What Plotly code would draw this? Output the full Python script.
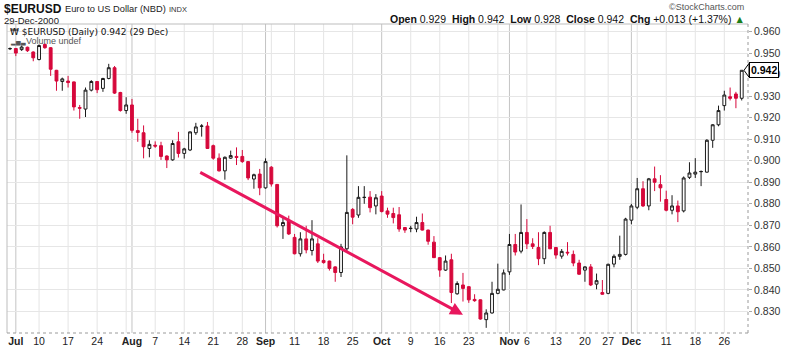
import pandas as pd
import plotly.graph_objects as go

# ---------------- data ----------------
HOLIDAYS = ["2000-07-04", "2000-09-04", "2000-11-23", "2000-12-25"]
dates = [d.strftime("%Y-%m-%d") for d in pd.bdate_range("2000-06-30", "2000-12-29")
         if d.strftime("%Y-%m-%d") not in HOLIDAYS]

opens = [0.9520, 0.9521, 0.9516, 0.9527, 0.9505, 0.9470, 0.9540, 0.9525, 0.9420, 0.9368,
         0.9370, 0.9366, 0.9247, 0.9240, 0.9328, 0.9368, 0.9336, 0.9382, 0.9432, 0.9317,
         0.9233, 0.9259, 0.9140, 0.9130, 0.9057, 0.9072, 0.9070, 0.9022, 0.9004, 0.9088,
         0.9034, 0.9050, 0.9130, 0.9160, 0.9161, 0.9070, 0.9012, 0.8953, 0.9012, 0.9020,
         0.9020, 0.8996, 0.8915, 0.8938, 0.8874, 0.8970, 0.8890, 0.8698, 0.8720, 0.8644,
         0.8568, 0.8637, 0.8583, 0.8614, 0.8537, 0.8534, 0.8507, 0.8481, 0.8591, 0.8774,
         0.8748, 0.8829, 0.8831, 0.8790, 0.8836, 0.8767, 0.8755, 0.8749, 0.8690, 0.8685,
         0.8683, 0.8713, 0.8678, 0.8622, 0.8550, 0.8492, 0.8540, 0.8382, 0.8423, 0.8415,
         0.8356, 0.8354, 0.8262, 0.8293, 0.8384, 0.8400, 0.8484, 0.8611, 0.8580, 0.8667,
         0.8614, 0.8597, 0.8545, 0.8667, 0.8597, 0.8557, 0.8575, 0.8565, 0.8525, 0.8492,
         0.8507, 0.8427, 0.8388, 0.8384, 0.8520, 0.8556, 0.8565, 0.8724, 0.8784, 0.8870,
         0.8790, 0.8916, 0.8889, 0.8820, 0.8770, 0.8790, 0.8767, 0.8923, 0.8938, 0.8949,
         0.8947, 0.9095, 0.9167, 0.9256, 0.9297, 0.9310, 0.9290]
highs = [0.9526, 0.9523, 0.9535, 0.9530, 0.9508, 0.9540, 0.9545, 0.9528, 0.9422, 0.9386,
         0.9394, 0.9368, 0.9259, 0.9340, 0.9374, 0.9370, 0.9385, 0.9450, 0.9440, 0.9320,
         0.9295, 0.9287, 0.9195, 0.9164, 0.9095, 0.9090, 0.9088, 0.9025, 0.9095, 0.9134,
         0.9060, 0.9136, 0.9176, 0.9170, 0.9180, 0.9075, 0.9034, 0.9020, 0.9047, 0.9062,
         0.9050, 0.8998, 0.8940, 0.8962, 0.9011, 0.8975, 0.8892, 0.8744, 0.8745, 0.8660,
         0.8668, 0.8698, 0.8724, 0.8640, 0.8568, 0.8536, 0.8510, 0.8614, 0.9025, 0.8780,
         0.8882, 0.8882, 0.8859, 0.8845, 0.8859, 0.8782, 0.8782, 0.8785, 0.8692, 0.8698,
         0.8740, 0.8755, 0.8680, 0.8650, 0.8553, 0.8560, 0.8568, 0.8440, 0.8479, 0.8418,
         0.8380, 0.8356, 0.8310, 0.8438, 0.8522, 0.8495, 0.8660, 0.8660, 0.8797, 0.8729,
         0.8640, 0.8668, 0.8672, 0.8698, 0.8600, 0.8590, 0.8622, 0.8583, 0.8540, 0.8510,
         0.8520, 0.8476, 0.8446, 0.8522, 0.8565, 0.8652, 0.8735, 0.8800, 0.8920, 0.8905,
         0.8920, 0.8973, 0.8933, 0.8861, 0.8840, 0.8815, 0.8927, 0.8993, 0.9012, 0.8955,
         0.9100, 0.9170, 0.9256, 0.9325, 0.9340, 0.9320, 0.9420]
lows = [0.9514, 0.9486, 0.9510, 0.9505, 0.9462, 0.9466, 0.9520, 0.9394, 0.9325, 0.9325,
        0.9340, 0.9233, 0.9195, 0.9203, 0.9322, 0.9314, 0.9320, 0.9378, 0.9310, 0.9228,
        0.9218, 0.9130, 0.9088, 0.9011, 0.9016, 0.9060, 0.9004, 0.8966, 0.9000, 0.9015,
        0.9010, 0.9045, 0.9120, 0.9112, 0.9055, 0.9005, 0.8950, 0.8912, 0.9008, 0.8980,
        0.8990, 0.8910, 0.8870, 0.8840, 0.8870, 0.8880, 0.8690, 0.8637, 0.8655, 0.8565,
        0.8555, 0.8570, 0.8560, 0.8525, 0.8522, 0.8490, 0.8438, 0.8460, 0.8580, 0.8705,
        0.8735, 0.8800, 0.8760, 0.8751, 0.8760, 0.8735, 0.8709, 0.8670, 0.8665, 0.8668,
        0.8668, 0.8676, 0.8610, 0.8548, 0.8461, 0.8488, 0.8339, 0.8378, 0.8346, 0.8340,
        0.8345, 0.8262, 0.8224, 0.8290, 0.8380, 0.8398, 0.8470, 0.8560, 0.8570, 0.8590,
        0.8590, 0.8515, 0.8520, 0.8590, 0.8545, 0.8545, 0.8560, 0.8510, 0.8470, 0.8438,
        0.8418, 0.8403, 0.8378, 0.8380, 0.8505, 0.8540, 0.8560, 0.8705, 0.8775, 0.8785,
        0.8770, 0.8859, 0.8810, 0.8765, 0.8751, 0.8715, 0.8760, 0.8915, 0.8920, 0.8882,
        0.8945, 0.9060, 0.9160, 0.9233, 0.9280, 0.9244, 0.9280]
closes = [0.9521, 0.9500, 0.9528, 0.9511, 0.9478, 0.9535, 0.9525, 0.9425, 0.9370, 0.9380,
          0.9363, 0.9250, 0.9244, 0.9328, 0.9368, 0.9330, 0.9382, 0.9432, 0.9314, 0.9233,
          0.9259, 0.9141, 0.9131, 0.9065, 0.9076, 0.9068, 0.9020, 0.9004, 0.9080, 0.9034,
          0.9055, 0.9134, 0.9157, 0.9161, 0.9057, 0.9012, 0.8953, 0.9016, 0.9024, 0.9015,
          0.8996, 0.8920, 0.8935, 0.8874, 0.8996, 0.8892, 0.8698, 0.8713, 0.8660, 0.8568,
          0.8637, 0.8586, 0.8637, 0.8534, 0.8527, 0.8500, 0.8481, 0.8600, 0.8760, 0.8738,
          0.8830, 0.8830, 0.8782, 0.8828, 0.8764, 0.8752, 0.8736, 0.8683, 0.8678, 0.8686,
          0.8713, 0.8678, 0.8626, 0.8550, 0.8492, 0.8534, 0.8388, 0.8430, 0.8407, 0.8354,
          0.8350, 0.8265, 0.8293, 0.8384, 0.8403, 0.8479, 0.8611, 0.8576, 0.8667, 0.8614,
          0.8602, 0.8545, 0.8667, 0.8591, 0.8562, 0.8579, 0.8572, 0.8525, 0.8473, 0.8507,
          0.8423, 0.8443, 0.8380, 0.8519, 0.8556, 0.8565, 0.8729, 0.8790, 0.8870, 0.8790,
          0.8916, 0.8900, 0.8874, 0.8770, 0.8790, 0.8763, 0.8920, 0.8943, 0.8947, 0.8950,
          0.9095, 0.9167, 0.9233, 0.9305, 0.9290, 0.9290, 0.9420]

TICK_DATES = ["2000-07-03", "2000-07-10", "2000-07-17", "2000-07-24", "2000-08-01", "2000-08-07",
              "2000-08-14", "2000-08-21", "2000-08-28", "2000-09-01", "2000-09-11", "2000-09-18",
              "2000-09-25", "2000-10-02", "2000-10-09", "2000-10-16", "2000-10-23", "2000-11-01",
              "2000-11-06", "2000-11-13", "2000-11-20", "2000-11-27", "2000-12-01", "2000-12-11",
              "2000-12-18", "2000-12-26"]
TICK_TEXT = ["Jul", "10", "17", "24", "Aug", "7", "14", "21", "28", "Sep", "11", "18", "25",
             "Oct", "9", "16", "23", "Nov", "6", "13", "20", "27", "Dec", "11", "18", "26"]
MONTH_LABELS = ["Jul", "Aug", "Sep", "Oct", "Nov", "Dec"]

Y_TICKS = [0.83, 0.84, 0.85, 0.86, 0.87, 0.88, 0.89, 0.90, 0.91, 0.92, 0.93, 0.94, 0.95, 0.96]
LAST_CLOSE = 0.942

# trend arrow (data coordinates: trading-day index, price)
ARROW_TAIL = (32.5, 0.8950)
ARROW_TIP = (78.0, 0.8285)

# ---------------- geometry helpers ----------------
W, H = 800, 354
PL, PR, PT, PB = 7, 748, 24, 337


def px(x):
    return (x - PL) / (PR - PL)


def py(y):
    return (PB - y) / (PB - PT)


RED = "#D6083B"
FONT = "Liberation Sans, Arial, sans-serif"

fig = go.Figure()
fig.add_trace(go.Candlestick(
    x=dates, open=opens, high=highs, low=lows, close=closes,
    increasing=dict(fillcolor="#FFFFFF", line=dict(color="#1a1a1a", width=1)),
    decreasing=dict(fillcolor=RED, line=dict(color=RED, width=1)),
    whiskerwidth=0, showlegend=False, hoverinfo="skip",
))

# vertical gridlines: first trading day of each week (light) and of each month (darker)
ser = pd.to_datetime(pd.Series(dates))
week_first = ser.groupby(ser.dt.isocalendar().week.values).min()
month_first = ser.groupby(ser.dt.month.values).min()
month_set = set(d.strftime("%Y-%m-%d") for d in month_first if d.month >= 7)
shapes = []
for d in week_first:
    s = d.strftime("%Y-%m-%d")
    if s in month_set or s == dates[0]:
        continue
    shapes.append(dict(type="line", xref="x", yref="paper", x0=s, x1=s, y0=0, y1=1,
                       line=dict(color="#E4E4E4", width=1), layer="below"))
for s in sorted(month_set):
    shapes.append(dict(type="line", xref="x", yref="paper", x0=s, x1=s, y0=0, y1=1,
                       line=dict(color="#C4C4C4", width=1), layer="below"))
# frame
shapes += [
    dict(type="line", xref="paper", yref="paper", x0=0, x1=1, y0=1, y1=1,
         line=dict(color="#BDBDBD", width=1)),
    dict(type="line", xref="paper", yref="paper", x0=0, x1=0, y0=0, y1=1,
         line=dict(color="#BDBDBD", width=1)),
    dict(type="line", xref="paper", yref="paper", x0=1, x1=1, y0=0, y1=1,
         line=dict(color="#9A9A9A", width=1, dash="dot")),
    dict(type="line", xref="paper", yref="paper", x0=0, x1=1, y0=0, y1=0,
         line=dict(color="#9A9A9A", width=1, dash="dot")),
]
# last price tag pointer
shapes.append(dict(type="path", xref="paper", yref="y",
                   path=f"M {px(744)} {LAST_CLOSE} L {px(749)} {LAST_CLOSE + 0.0032} "
                        f"L {px(749)} {LAST_CLOSE - 0.0032} Z",
                   fillcolor="#FFFFFF", line=dict(color="#000", width=1)))

ticktext = [f"<b>{t}</b>" if t in MONTH_LABELS else t for t in TICK_TEXT]

annotations = [
    dict(x=ARROW_TIP[0], y=ARROW_TIP[1], ax=ARROW_TAIL[0], ay=ARROW_TAIL[1],
         xref="x", yref="y", axref="x", ayref="y", text="", showarrow=True,
         arrowhead=2, arrowsize=0.85, arrowwidth=3, arrowcolor="#E8175D", standoff=0),
    # header
    dict(x=px(2), y=py(8.5), xref="paper", yref="paper", xanchor="left", yanchor="middle",
         showarrow=False, align="left",
         text="<b>$EURUSD</b>", font=dict(family=FONT, size=12, color="#111")),
    dict(x=px(63), y=py(9), xref="paper", yref="paper", xanchor="left", yanchor="middle",
         showarrow=False, text="Euro to US Dollar (NBD)",
         font=dict(family=FONT, size=9.3, color="#222")),
    dict(x=px(167), y=py(9.5), xref="paper", yref="paper", xanchor="left", yanchor="middle",
         showarrow=False, text="INDX", font=dict(family=FONT, size=7.5, color="#333")),
    dict(x=px(2), y=py(20), xref="paper", yref="paper", xanchor="left", yanchor="middle",
         showarrow=False, text="29-Dec-2000", font=dict(family=FONT, size=9.5, color="#222")),
    dict(x=px(746), y=py(7), xref="paper", yref="paper", xanchor="right", yanchor="middle",
         showarrow=False, text="©StockCharts.com", font=dict(family=FONT, size=9, color="#555")),
    dict(x=px(747), y=py(18.5), xref="paper", yref="paper", xanchor="right", yanchor="middle",
         showarrow=False,
         text=("<b>Open</b> 0.929  <b>High</b> 0.942  <b>Low</b> 0.928  <b>Close</b> 0.942  "
               "<b>Chg</b> +0.013 (+1.37%) <span style='color:#1a7f1a'>▲</span>"),
         font=dict(family=FONT, size=10.5, color="#111")),
    # in-plot legend
    dict(x=px(8), y=py(32.5), xref="paper", yref="paper", xanchor="left", yanchor="middle",
         showarrow=False, text="₩ $EURUSD (Daily) 0.942 (29 Dec)",
         font=dict(family="DejaVu Sans, Verdana, sans-serif", size=9, color="#111")),
    dict(x=px(8), y=py(41), xref="paper", yref="paper", xanchor="left", yanchor="middle",
         showarrow=False, text="<span style='font-size:6px'>▂▅▃</span>Volume undef",
         font=dict(family=FONT, size=9, color="#555")),
    # last price tag
    dict(x=px(749), y=LAST_CLOSE, xref="paper", yref="y", xanchor="left", yanchor="middle",
         showarrow=False, text="<b>0.942</b>", bgcolor="#FFFFFF", bordercolor="#000",
         borderwidth=1, borderpad=1, font=dict(family=FONT, size=10.5, color="#000")),
]

fig.update_layout(
    width=W, height=H,
    margin=dict(l=PL, r=W - PR, t=PT, b=H - PB),
    paper_bgcolor="#FFFFFF", plot_bgcolor="#FFFFFF",
    shapes=shapes, annotations=annotations,
    showlegend=False,
    xaxis=dict(type="category", categoryorder="array", categoryarray=dates,
               range=[-0.52, len(dates) - 1 + 1.08],
               tickvals=TICK_DATES, ticktext=ticktext, tickangle=0,
               showgrid=False, zeroline=False, showline=False, ticks="",
               tickfont=dict(family=FONT, size=10.5, color="#222"),
               rangeslider=dict(visible=False), fixedrange=True),
    yaxis=dict(side="right", range=[0.82, 0.9635], tickvals=Y_TICKS, tickformat=".3f",
               showgrid=True, gridcolor="#E6E6E6", gridwidth=1, zeroline=False,
               showline=False, ticks="outside", ticklen=3, tickcolor="#AAAAAA",
               tickfont=dict(family=FONT, size=10.5, color="#333"), fixedrange=True),
)

fig.write_html("out.html")
